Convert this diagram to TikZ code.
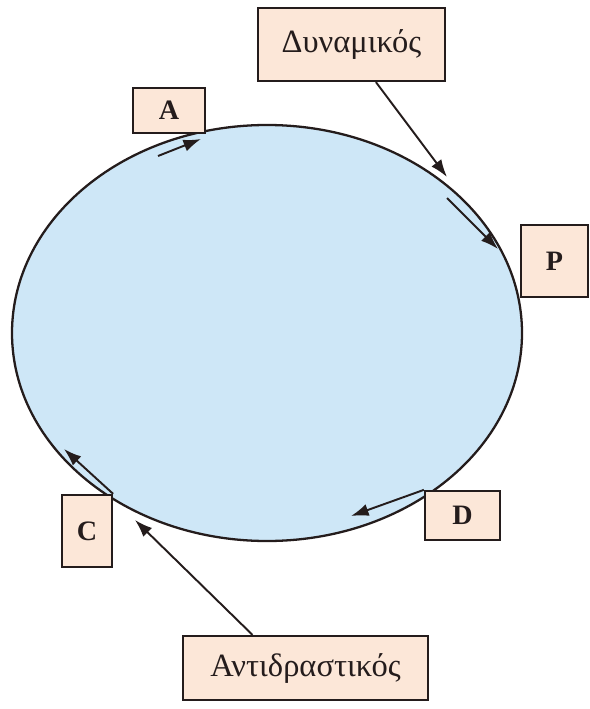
\documentclass[tikz,border=0pt]{standalone}
\usepackage{fontspec}
\setmainfont{Liberation Serif}
\usetikzlibrary{arrows.meta}

\definecolor{cyclefill}{RGB}{206,231,247}
\definecolor{boxfill}{RGB}{252,231,216}
\definecolor{inkline}{RGB}{36,28,28}

\tikzset{
  box/.style={draw=inkline, line width=1.3pt, fill=boxfill, text=inkline, inner sep=0pt},
  word/.style={box, font=\fontsize{18.5}{22}\selectfont},
  letter/.style={box, font=\fontsize{16}{19}\selectfont\bfseries},
  arr/.style={-{Latex[length=10pt,width=7pt]}, draw=inkline, line width=1.1pt}
}

\begin{document}
\begin{tikzpicture}[x=0.02cm,y=-0.02cm]
                        \useasboundingbox (0,0) rectangle (589,709);
                        % Cycle
                        \draw[draw=inkline, line width=1.3pt, fill=cyclefill] (267,333) ellipse [x radius=255, y radius=208];

                        % Nodes
                        \node[letter, minimum width=1.44cm, minimum height=0.9cm] (A) at (169,110.5) {A};
                        \node[word, minimum width=3.74cm, minimum height=1.46cm] (dyn) at (351.5,44.5) {Δυναμικός};
                        \node[letter, minimum width=1.34cm, minimum height=1.44cm] (P) at (554.5,261) {P};
                        \node[letter, minimum width=1.5cm, minimum height=0.98cm] (D) at (462.5,515.5) {D};
                        \node[letter, minimum width=1.0cm, minimum height=1.44cm] (C) at (87,531) {C};
                        \node[word, minimum width=4.9cm, minimum height=1.28cm] (anti) at (305.5,668) {Αντιδραστικός};

                        % Points on the cycle
                        \coordinate (a0) at (158,156);
                        \coordinate (a1) at (201,139);
                        \coordinate (dtip) at (447,177);
                        \coordinate (p0) at (447,198);
                        \coordinate (p1) at (498,249);
                        \coordinate (dd) at (351,516);
                        \coordinate (cc) at (64,449);
                        \coordinate (rtip) at (135,520);

                        % Edges
                        \draw[arr] (a0) -- (a1);
                        \draw[arr] (dyn.-57) -- (dtip);
                        \draw[arr] (p0) -- (p1);
                        \draw[arr] (D.north west) -- (dd);
                        \draw[arr] (C.north east) -- (cc);
                        \draw[arr] (anti.148) -- (rtip);
                    \end{tikzpicture}
\end{document}
